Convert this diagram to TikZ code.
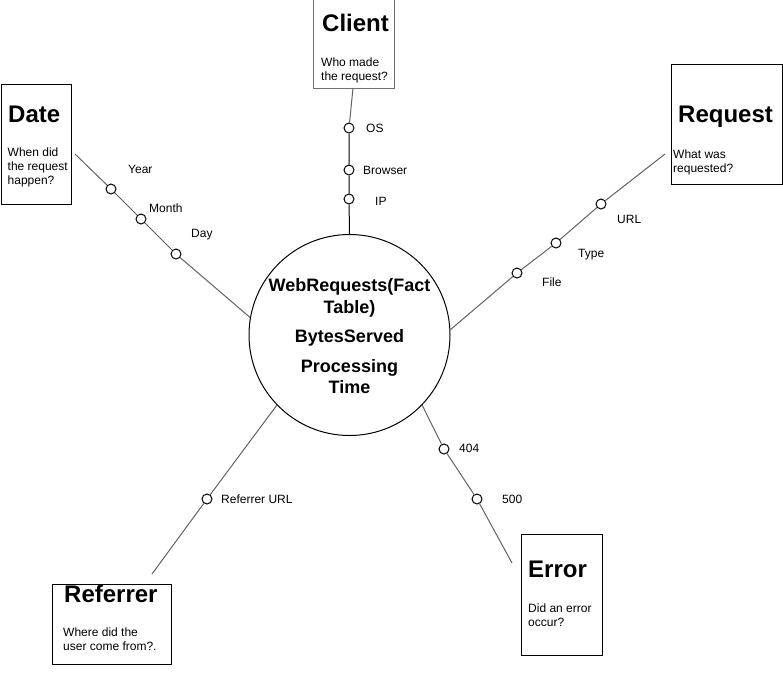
\documentclass[tikz,border=0pt]{standalone}
\usepackage{fontspec}
\setmainfont{Liberation Sans}
\usetikzlibrary{positioning}
\definecolor{spokegray}{HTML}{626262}
\definecolor{boxgray}{HTML}{707070}

\tikzset{
    dimbox/.style={rectangle, draw=black, line width=1pt, anchor=north west, inner sep=0pt},
    dimtitle/.style={anchor=base west, inner sep=0pt, font=\fontsize{24}{28}\selectfont\bfseries},
    dimtext/.style={anchor=north west, inner sep=0pt, align=left, font=\fontsize{12}{14}\selectfont},
    attr/.style={circle, draw=black, fill=white, line width=1pt, minimum size=10pt, inner sep=0pt},
    attrlabel/.style={anchor=west, inner sep=0pt, text height=8.6pt, text depth=0pt, font=\fontsize{12}{14}\selectfont},
    spoke/.style={draw=spokegray, line width=1pt}
}

\begin{document}
\begin{tikzpicture}[
    x=1pt, y=-1pt,
    fact/.style={circle, draw=black, line width=1pt, minimum size=201pt, inner sep=0pt},
    facttext/.style={anchor=north, inner sep=0pt, align=center, font=\fontsize{18}{22}\selectfont\bfseries}
]
\useasboundingbox (0,0) rectangle (783,697);

% fact table
\node[fact] (fact) at (349.5,335) {};
\node[facttext] (facttext) at (349.5,278.5) {WebRequests(Fact\\Table)\\[7pt]BytesServed\\[8pt]Processing\\[-1pt]Time};

% Client
\node[dimbox, draw=boxgray, minimum width=81pt, minimum height=89pt] (clientbox) at (313,-1) {};
\node[dimtitle] (clienttitle) at (322,31.7) {Client};
\node[dimtext] (clienttext) at (321,58) {Who made\\the request?};
\coordinate (clientend) at (353,88);
\node[attr] (os) at (349,128) {};
\node[attr] (browser) at (349,170) {};
\node[attr] (ip) at (349,199) {};
\node[attrlabel] (oslabel) at (366,128) {OS};
\node[attrlabel] (browserlabel) at (363,170) {Browser};
\node[attrlabel] (iplabel) at (375,201) {IP};
\draw[spoke] (clientend) -- (os);
\draw[black, line width=1pt] (os) -- (browser) -- (ip) -- (fact.north);

% Date
\node[dimbox, minimum width=70pt, minimum height=120pt] (datebox) at (0.5,84) {};
\node[dimtitle] (datetitle) at (8,122.7) {Date};
\node[dimtext] (datetext) at (7.5,147.5) {When did\\the request\\happen?};
\coordinate (dateend) at (75,154);
\node[attr] (year) at (111,189) {};
\node[attr] (month) at (141,219) {};
\node[attr] (day) at (176,254) {};
\node[attrlabel] (yearlabel) at (128,169) {Year};
\node[attrlabel] (monthlabel) at (149,208) {Month};
\node[attrlabel] (daylabel) at (191,233) {Day};
\draw[spoke] (dateend) -- (year) -- (month) -- (day) -- (fact.170);

% Request
\node[dimbox, minimum width=111pt, minimum height=120pt] (requestbox) at (671,64) {};
\node[dimtitle] (requesttitle) at (678,122.7) {Request};
\node[dimtext] (requesttext) at (673,150) {What was\\requested?};
\coordinate (requestend) at (665,154);
\node[attr] (url) at (601,204) {};
\node[attr] (type) at (556,243) {};
\node[attr] (file) at (517,273) {};
\node[attrlabel] (urllabel) at (617,219) {URL};
\node[attrlabel] (typelabel) at (578,253) {Type};
\node[attrlabel] (filelabel) at (542,282) {File};
\draw[spoke] (requestend) -- (url) -- (type) -- (file) -- (fact.3);

% Error
\node[dimbox, minimum width=81pt, minimum height=121pt] (errorbox) at (521,534) {};
\node[dimtitle] (errortitle) at (528,577) {Error};
\node[dimtext] (errortext) at (528,604) {Did an error\\occur?};
\coordinate (errorend) at (512,563);
\node[attr] (nf) at (444,449) {};
\node[attr] (ise) at (477,499) {};
\node[attrlabel] (nflabel) at (459,448) {404};
\node[attrlabel] (iselabel) at (502,499) {500};
\draw[spoke] (fact.-44) -- (nf) -- (ise) -- (errorend);

% Referrer
\node[dimbox, minimum width=119pt, minimum height=80pt] (referrerbox) at (52,584) {};
\node[dimtitle] (referrertitle) at (64,602.7) {Referrer};
\node[dimtext] (referrertext) at (63,628) {Where did the\\user come from?.};
\coordinate (referrerend) at (152,574);
\node[attr] (refurl) at (207,499) {};
\node[attrlabel] (refurllabel) at (221,499) {Referrer URL};
\draw[spoke] (fact.224) -- (refurl) -- (referrerend);

\end{tikzpicture}
\end{document}
